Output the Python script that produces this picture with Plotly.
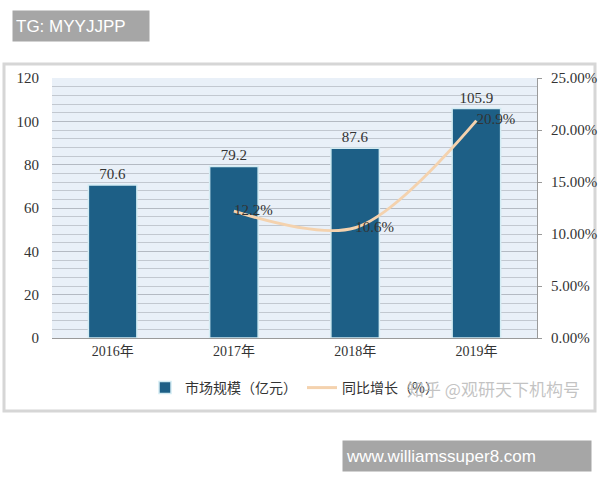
import plotly.graph_objects as go

years = ["2016年", "2017年", "2018年", "2019年"]
market_size = [70.6, 79.2, 87.6, 105.9]
growth_years = ["2017年", "2018年", "2019年"]
growth_rate = [12.2, 10.6, 20.9]
left_ticks = [0, 20, 40, 60, 80, 100, 120]
right_ticks = [0, 5, 10, 15, 20, 25]

L, R, T, B = 52, 63, 78, 142
W, H = 600, 480
pw, ph = W - L - R, H - T - B

def px(x):
    return (x - L) / pw

def py(y):
    return (H - B - y) / ph

serif = "Liberation Serif, Noto Sans CJK SC, serif"
cjk = "Noto Sans CJK SC, sans-serif"

fig = go.Figure()
fig.add_trace(go.Bar(
    x=years, y=market_size, name="市场规模（亿元）",
    marker=dict(color="#1d5f86", line=dict(color="#d3ecf3", width=1.5)),
    text=[f"{v:.1f}" for v in market_size], textposition="outside",
    textfont=dict(family=serif, size=15, color="#333"),
    cliponaxis=False,
))
fig.add_trace(go.Scatter(
    x=growth_years, y=growth_rate, yaxis="y2", name="同比增长（%）",
    mode="lines+text", line=dict(color="#f4d2ae", width=3, shape="spline", smoothing=0.9),
    text=[f"{v:.1f}%" for v in growth_rate], textposition="middle right",
    textfont=dict(family=serif, size=15, color="#333"),
    cliponaxis=False,
))

fig.update_layout(
    width=W, height=H, autosize=False,
    margin=dict(l=L, r=R, t=T, b=B, pad=0, autoexpand=False),
    paper_bgcolor="white", plot_bgcolor="#e9f0f8",
    bargap=0.6,
    showlegend=True,
    legend=dict(orientation="h", x=0.5, xanchor="center", y=py(388), yanchor="middle",
                font=dict(family=cjk, size=14, color="#333"), bgcolor="rgba(0,0,0,0)",
                itemwidth=30, tracegroupgap=10),
    xaxis=dict(showgrid=False, showline=True, linecolor="#9a9a9a", linewidth=1, automargin=False,
               tickfont=dict(family=serif, size=14, color="#333"), ticks="", fixedrange=True),
    yaxis=dict(range=[0, 120], tickvals=left_ticks, showline=False, zeroline=False, automargin=False,
               gridcolor="#b4bac3", gridwidth=1,
               minor=dict(dtick=4, showgrid=True, gridcolor="#c2c8d0", gridwidth=1),
               tickfont=dict(family=serif, size=15, color="#333"), ticks="",
               ticklabelstandoff=12),
    yaxis2=dict(range=[0, 25], overlaying="y", side="right", tickvals=right_ticks, automargin=False,
                ticktext=[f"{v:.2f}%" for v in right_ticks], showgrid=False, zeroline=False,
                showline=True, linecolor="#9a9a9a", linewidth=1, ticks="outside",
                ticklen=4, tickcolor="#9a9a9a", ticklabelstandoff=6,
                tickfont=dict(family=serif, size=15, color="#333")),
)

# outer frame
fig.add_shape(type="rect", xref="paper", yref="paper",
              x0=px(4), x1=px(595), y0=py(411), y1=py(64),
              line=dict(color="#d6d6d6", width=3), layer="below")

# watermark text over legend
fig.add_annotation(text="知乎 @观研天下机构号", xref="paper", yref="paper",
                   x=px(405), y=py(388), xanchor="left", yanchor="middle", showarrow=False,
                   font=dict(family=cjk, size=17, color="rgba(185,185,185,0.85)"))

# grey label boxes
fig.add_annotation(text="TG: MYYJJPP", xref="paper", yref="paper",
                   x=px(12), y=py(10), xanchor="left", yanchor="top", showarrow=False,
                   align="left", width=130, height=24, borderpad=3, bgcolor="#a6a6a6",
                   font=dict(family="Liberation Sans, Arial, sans-serif", size=17, color="white"))
fig.add_annotation(text="www.williamssuper8.com", xref="paper", yref="paper",
                   x=px(342), y=py(440), xanchor="left", yanchor="top", showarrow=False,
                   align="left", width=242, height=24, borderpad=3, bgcolor="#a6a6a6",
                   font=dict(family="Liberation Sans, Arial, sans-serif", size=17, color="white"))

fig.write_html("out.html", config={"displayModeBar": False},
               post_script="document.body.style.margin='0';document.body.style.overflow='hidden';")
